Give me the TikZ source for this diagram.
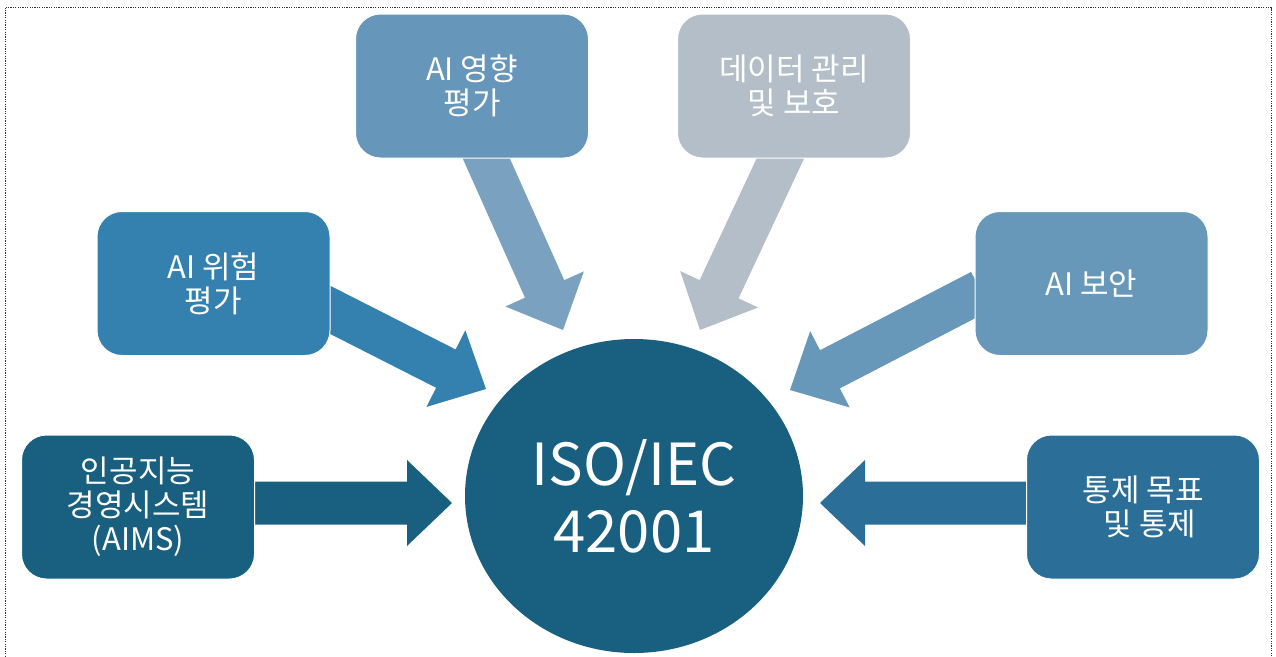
\documentclass[tikz,border=0pt]{standalone}
\usepackage{fontspec}
\setmainfont{Noto Sans CJK KR}
\usetikzlibrary{calc,shapes.geometric,backgrounds}
\definecolor{cDark}{HTML}{185F80}
\definecolor{cRisk}{HTML}{3481B0}
\definecolor{cImp}{HTML}{6696B9}
\definecolor{cImpA}{HTML}{7AA1BF}
\definecolor{cData}{HTML}{B3BEC8}
\definecolor{cSec}{HTML}{6797B9}
\definecolor{cCtrl}{HTML}{2B6F98}
\tikzset{
  boxnode/.style={rounded corners=25pt, draw=white, line width=1pt,
    minimum width=233pt, minimum height=144pt, text=white, align=center,
    font=\fontsize{31}{34}\selectfont, inner sep=0pt},
  hubnode/.style={ellipse, minimum width=338pt, minimum height=314pt,
    fill=cDark, text=white, align=center, inner sep=0pt,
    font=\fontsize{58}{67}\selectfont},
  frameline/.style={draw=black!80, line width=0.8pt, dash pattern=on 1.2pt off 1.2pt}
}
\newcommand\myblockarrow[3]{%
  \coordinate (hB) at ($(#2)!45pt!(#1)$);
  \fill[#3] ($(#1)!21.5pt!90:(#2)$) -- ($(hB)!21.5pt!90:(#2)$) -- ($(hB)!43pt!90:(#2)$)
    -- (#2) -- ($(hB)!43pt!-90:(#2)$) -- ($(hB)!21.5pt!-90:(#2)$)
    -- ($(#1)!21.5pt!-90:(#2)$) -- cycle;
}
\begin{document}
\begin{tikzpicture}[x=1pt,y=-1pt]
\path[use as bounding box] (0,0) rectangle (1276,656);
\clip (0,0) rectangle (1276,656);
\draw[frameline] (5,7.5) rectangle (1271,690);

% hub
\node[hubnode] (iso) at (634,496) {ISO/IEC\\42001};

% boxes
\node[boxnode, fill=cDark]  (aims)   at (138,507)    {인공지능\\경영시스템\\(AIMS)};
\node[boxnode, fill=cRisk]  (risk)   at (213.5,283.5) {AI 위험\\평가};
\node[boxnode, fill=cImp]   (impact) at (472,86)     {AI 영향\\평가};
\node[boxnode, fill=cData]  (data)   at (794,86)     {데이터 관리\\및 보호};
\node[boxnode, fill=cSec]   (sec)    at (1091.5,283.5) {AI 보안};
\node[boxnode, fill=cCtrl]  (ctrl)   at (1143,507)   {통제 목표\\\hspace*{14pt}및 통제};

% arrow end points
\coordinate (aimsT) at (200,503);   \coordinate (aimsP) at (452,503);
\coordinate (ctrlT) at (1080,503);  \coordinate (ctrlP) at (820,503);
\coordinate (riskT) at (299,294);   \coordinate (riskP) at (486,389);
\coordinate (impT)  at (478,140);   \coordinate (impP)  at (563,330);
\coordinate (dataT) at (789,140);   \coordinate (dataP) at (700,330);
\coordinate (secT)  at (981,291);   \coordinate (secP)  at (790,390);

\begin{scope}[on background layer]
\myblockarrow{aimsT}{aimsP}{cDark}
\myblockarrow{ctrlT}{ctrlP}{cCtrl}
\myblockarrow{riskT}{riskP}{cRisk}
\myblockarrow{impT}{impP}{cImpA}
\myblockarrow{dataT}{dataP}{cData}
\myblockarrow{secT}{secP}{cSec}
\end{scope}
\end{tikzpicture}
\end{document}
